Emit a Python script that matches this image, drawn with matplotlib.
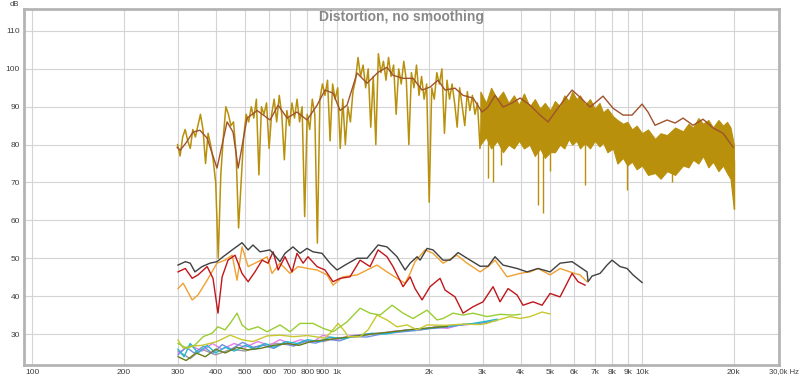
import numpy as np
import matplotlib
matplotlib.use("Agg")
import matplotlib.pyplot as plt

# ---- data (Hz, dB) ----
# raw fundamental, 300 Hz .. 3 kHz (log spaced measurement bins)
raw_lo_db = [80, 77, 82, 84, 81, 79, 84, 82, 85, 88,
             84, 75, 83, 80, 76, 70, 50, 72, 82, 90,
             88, 85, 86, 78, 58, 70, 82, 88, 86, 90,
             87, 92, 72, 90, 88, 91, 79, 88, 92, 86,
             93, 88, 76, 89, 85, 91, 87, 92, 86, 90,
             61, 88, 84, 92, 88, 54, 92, 96, 93, 97,
             81, 96, 92, 95, 79, 92, 80, 90, 86, 94,
             97, 103, 98, 101, 95, 100, 84.6, 98, 80, 104,
             99, 102, 97, 103, 98, 101, 88, 100, 96, 102,
             97, 80, 99, 95, 101, 93, 98, 92, 96, 64.8,
             95, 92, 99, 96, 100, 83, 97, 92, 96, 91,
             84.6, 95, 90, 85, 94, 89, 93, 88, 91, 79,
             90]

# raw fundamental above ~3 kHz: dense band (upper / lower envelope)
band_freq = [2950, 3080, 3200, 3350, 3500, 3650, 3800, 3950, 4100, 4280,
             4450, 4630, 4800, 5000, 5180, 5380, 5560, 5750, 5900, 6100,
             6260, 6500, 6750, 7000, 7250, 7450, 7700, 8030, 8300, 8660,
             8950, 9270, 9600, 10000, 10460, 11030, 11500, 12080, 12830, 13630,
             14200, 14700, 15300, 15850, 16500, 17090, 17800, 18430, 19000, 19500,
             20000]
band_hi = [94, 91, 95, 92, 94, 91, 93, 90.5, 93.5, 90,
           92, 89.5, 91, 89, 91.5, 90, 93, 91.5, 94, 92,
           93, 90.5, 92, 89.5, 91, 88.5, 89.5, 87.5, 86.5, 85.5,
           86, 84, 85, 83, 84, 81.5, 83, 82.5, 84.5, 83.5,
           85.5, 84.5, 87, 85.5, 86.5, 84.5, 86.5, 85, 86, 84.5,
           80]
band_lo = [80, 82, 79, 81, 78, 80, 79, 81, 79, 80,
           77, 79, 76.5, 78, 78, 80, 79, 81.5, 80, 81,
           79, 80.5, 79, 81, 79.5, 80.5, 78, 79, 75, 76.5,
           74.5, 75.5, 73.5, 74.5, 72, 72.5, 71, 73, 72, 74.5,
           74, 76, 75, 77, 74, 75.5, 73, 74.5, 72.5, 71,
           63]

# deep notches inside the band
spike_freq = [3127, 3247, 3450, 4560, 4736, 4993, 6503, 8930, 10620, 12540, 19950]
spike_db = [71.2, 70.1, 74.6, 64, 61.9, 73, 69.3, 68, 74, 70, 63]
spike_top = [86, 86, 86, 84, 84, 84, 84, 80, 78, 78, 76]

# smoothed fundamental
fund_freq = [299, 306, 320, 337, 355, 375, 404, 436, 456, 474,
             507, 547, 603, 641, 686, 739, 797, 860, 913, 970,
             1023, 1078, 1163, 1254, 1363, 1458, 1526, 1646, 1775, 1900,
             2018, 2143, 2260, 2437, 2589, 2792, 2988, 3127, 3296, 3502,
             3749, 3981, 4294, 4631, 4918, 5384, 5896, 6262, 6753, 7448,
             8034, 8662, 9273, 10000, 10460, 11030, 12080, 12830, 13630, 14700,
             15850, 17090, 18430, 19880]
fund_db = [79.3, 78.5, 80.5, 83.3, 83.8, 81.7, 73.8, 86, 83.3, 73.8,
           87, 89, 86.5, 90.4, 87, 88.6, 86.5, 90.4, 94.4, 93.6,
           89, 90.4, 98.9, 96.2, 99.1, 100.4, 98.3, 97.5, 97.5, 94.4,
           95.2, 97, 94.4, 94.9, 93, 92.3, 88.6, 89.9, 93, 89.9,
           91, 92.3, 90.4, 87.8, 86, 90.4, 94.4, 92.5, 89.9, 92.8,
           89.6, 87.8, 87.8, 90.7, 88.6, 85.1, 86.5, 85.7, 87, 85.1,
           86.7, 84.4, 83, 79.3]

# total distortion
thd_freq = [301, 318, 330, 342, 361, 383, 404, 423, 453, 488,
            511, 530, 559, 603, 650, 675, 717, 756, 797, 834,
            893, 948, 1000, 1062, 1163, 1254, 1363, 1458, 1573, 1671,
            1736, 1830, 1872, 1973, 2064, 2226, 2347, 2493, 2669, 2944,
            3127, 3296, 3502, 3892, 4198, 4560, 4993, 5384, 5896, 6358,
            6603, 6653, 6857, 7283, 7677, 7973, 8473, 8930, 9343, 10000]
thd_db = [48.2, 49.1, 48.7, 46.4, 47.8, 48.7, 49.1, 50.4, 52.2, 54.1,
          52.2, 53.5, 51.7, 52.2, 49.1, 51.3, 53, 51.3, 52.6, 51.7,
          51.3, 48.7, 46.9, 48.2, 50, 50, 53.5, 53, 50.4, 46.9,
          48.7, 50.4, 49.5, 52.6, 52.2, 49.5, 49.5, 51.5, 50, 47.9,
          47.9, 50.4, 48.2, 47.3, 46.4, 47.3, 46.4, 48.7, 49.1, 47.3,
          46.4, 43.8, 45.3, 46, 48.2, 49.5, 47.8, 47.3, 45.6, 43.6]

# 2nd harmonic
h2_freq = [301, 313, 335, 350, 375, 404, 429, 453, 470, 488,
           511, 551, 590, 612, 650, 701, 745, 803, 860, 927,
           970, 1046, 1163, 1254, 1352, 1458, 1573, 1671, 1736, 1802,
           1944, 2064, 2226, 2474, 2669, 2944, 3127, 3296, 3609, 3981,
           4294, 4560, 4993, 5384, 5896, 6262, 6603]
h2_db = [42, 43.4, 39, 40.3, 44.2, 48.7, 49.5, 50.8, 44.2, 53,
         47.8, 49.1, 50.4, 46, 48.7, 46, 47.8, 47.3, 46.9, 45.6,
         42.9, 45.1, 45.6, 46.9, 48.2, 46.4, 44.7, 43.4, 46, 49.1,
         52.2, 51.3, 48.7, 50.8, 48.7, 46.4, 47.8, 49.5, 45.1, 46,
         46.4, 47.3, 45.6, 47.3, 46.2, 45.6, 43.8]

# 3rd harmonic
h3_freq = [301, 318, 335, 350, 375, 392, 407, 420, 439, 463,
           488, 511, 538, 568, 594, 617, 641, 675, 712, 739,
           774, 803, 860, 913, 970, 1023, 1103, 1190, 1283, 1363,
           1458, 1526, 1646, 1736, 1802, 1900, 2018, 2176, 2260, 2437,
           2589, 2792, 3011, 3247, 3423, 3637, 3892, 4072, 4392, 4701,
           4993, 5384, 5896, 6170, 6503]
h3_db = [46.4, 47.3, 44.7, 45.6, 47.8, 44.7, 35.5, 45.1, 49.5, 50.8,
         46, 43.8, 46.4, 49.5, 48.7, 51.7, 46.9, 50.4, 46.4, 51.3,
         48.7, 50.4, 47.8, 46.9, 43.8, 44.7, 45.1, 49.5, 47.8, 52.2,
         50.4, 47.8, 42.5, 45.1, 42, 39, 42.5, 44.7, 41.6, 39.8,
         35.5, 37.2, 38.5, 42.5, 38.5, 42, 40.3, 37.6, 38.5, 37.6,
         40.7, 39.8, 46, 43.8, 42.9]

# 4th harmonic
h4_freq = [301, 322, 342, 364, 389, 407, 429, 446, 470, 488,
           511, 551, 590, 650, 701, 756, 834, 900, 970, 1078,
           1190, 1283, 1384, 1515, 1646, 1775, 1973, 2128, 2226, 2401,
           2589, 2792, 3103, 3423, 3776, 3981]
h4_db = [27.5, 26.2, 27.1, 29.3, 30.2, 31.9, 31.1, 32.8, 35.5, 32.4,
         31.1, 31.9, 30.6, 32.4, 30.6, 32.8, 32.8, 31.5, 30.6, 33.2,
         36.8, 35.5, 35, 37.6, 35.5, 34.1, 36.3, 33.7, 34.1, 35.5,
         35, 35.5, 34.6, 35.2, 35, 35.2]

# 5th harmonic
h5_freq = [301, 313, 335, 361, 404, 446, 488, 530, 590, 650,
           720, 800, 913, 948, 1008, 1062, 1086, 1190, 1264, 1352,
           1458, 1573, 1697, 1830, 1973, 2260, 2589, 2944, 3103, 3296,
           3692, 3981, 4294, 4701, 4993]
h5_db = [28.4, 26.3, 26.8, 27, 28, 29.7, 28.5, 28, 29.5, 29.7,
         29.3, 29.6, 28.9, 30.2, 32.8, 30.6, 29.3, 29.3, 31.1, 35,
         33.7, 31.9, 32.4, 31.1, 32.4, 32.3, 32.6, 32.5, 32.8, 33.5,
         34.6, 34.1, 34.6, 35.8, 35.3]

# higher harmonics (low cluster)
h6_freq = [301, 330, 361, 390, 420, 460, 500, 550, 600, 650,
           700, 760, 830, 900, 1000, 1100, 1250, 1400, 1550, 1700,
           1900, 2100, 2300, 2500, 2700]
h6_db = [25, 27, 25.5, 27.5, 26, 27.5, 26.5, 28, 27, 28.5,
         27.5, 28.5, 27.8, 29.7, 28.5, 29.5, 30, 30.2, 30.8, 31,
         31.2, 31.8, 31.5, 32.3, 32.5]

h7_freq = [301, 315, 330, 350, 375, 400, 430, 460, 500, 540,
           580, 620, 680, 740, 800, 870, 950, 1050, 1150, 1300,
           1450, 1600, 1800, 2000, 2250, 2500, 2800, 3100, 3350]
h7_db = [26, 24, 27.5, 25, 27, 25, 26.5, 25.5, 27, 26,
         27.5, 26.5, 28, 27.5, 28.5, 28, 29.2, 28.7, 29.5, 30.2,
         30, 30.8, 31.2, 31.5, 32, 32.4, 32.8, 33.4, 33.9]

h8_freq = [301, 320, 340, 365, 390, 420, 450, 490, 530, 575,
           620, 670, 720, 780, 850, 930, 1020, 1120, 1250, 1400,
           1600, 1800, 2000, 2300, 2600, 2900, 3200, 3350]
h8_db = [24.5, 26.5, 25, 26.8, 24.8, 27.2, 26, 27.8, 26.5, 27,
         26.2, 27.6, 26.8, 28, 27.6, 28.6, 28.2, 29.4, 29.2, 30,
         30.5, 30.9, 31.4, 31.8, 32.5, 32.7, 33.3, 33.6]

h9_freq = [301, 320, 345, 370, 400, 430, 470, 510, 560, 620,
           690, 750, 820, 900, 1000, 1100, 1250, 1400, 1600, 1800,
           2000, 2300]
h9_db = [24, 23, 25, 24, 26, 25, 26.5, 25.8, 26.2, 27,
         27.5, 27, 28, 28.4, 28.8, 29.3, 29.8, 30.3, 30.8, 31.3,
         31.6, 32]

h10_freq = [301, 330, 360, 400, 450, 500, 560, 640, 720, 800,
            900, 1000, 1150, 1300, 1500, 1700, 1900, 2100, 2300, 2500]
h10_db = [25.5, 23.5, 26, 24.5, 26, 25.5, 27, 27.5, 27, 28.2,
          28, 29, 29.2, 30, 30.4, 31.1, 31.2, 31.9, 32.1, 32.5]

xticks = [100, 200, 300, 400, 500, 600, 700, 800, 900, 1000,
          2000, 3000, 4000, 5000, 6000, 7000, 8000, 9000, 10000, 20000]
xticklabels = ['100', '200', '300', '400', '500', '600', '700', '800', '900', '1k',
               '2k', '3k', '4k', '5k', '6k', '7k', '8k', '9k', '10k', '20k']
yticks = [30, 40, 50, 60, 70, 80, 90, 100, 110]

# ---- plotting ----
plt.rcParams['font.family'] = ['Liberation Sans', 'DejaVu Sans']

gold = '#b8900c'
fig = plt.figure(figsize=(8, 3.8), dpi=100)
ax = fig.add_axes([24 / 800, 15 / 380, 755 / 800, 356 / 380])

ax.set_xscale('log')
ax.set_xlim(94.1, 28120)
ax.set_ylim(21.82, 115.8)

raw_lo_freq = np.geomspace(300, 3000, len(raw_lo_db))
ax.plot(raw_lo_freq, raw_lo_db, color=gold, lw=1.1, zorder=2)
ax.fill_between(band_freq, band_lo, band_hi, color=gold, lw=0.8, zorder=2)
ax.vlines(spike_freq, spike_db, spike_top, color=gold, lw=1.0, zorder=2)
ax.plot(fund_freq, fund_db, color='#a0522d', lw=1.0, zorder=3)

ax.plot(h10_freq, h10_db, color='#9a9a9a', lw=1.0, zorder=3)
ax.plot(h6_freq, h6_db, color='#e67ee6', lw=1.0, zorder=3)
ax.plot(h8_freq, h8_db, color='#7090e0', lw=1.0, zorder=3)
ax.plot(h7_freq, h7_db, color='#20b8d0', lw=1.0, zorder=3)
ax.plot(h9_freq, h9_db, color='#6b7d1a', lw=1.0, zorder=3)
ax.plot(h5_freq, h5_db, color='#c8c830', lw=1.0, zorder=3)
ax.plot(h4_freq, h4_db, color='#9acd32', lw=1.0, zorder=3)
ax.plot(h2_freq, h2_db, color='#f0a030', lw=1.0, zorder=3)
ax.plot(h3_freq, h3_db, color='#c0161a', lw=1.0, zorder=3)
ax.plot(thd_freq, thd_db, color='#404040', lw=1.0, zorder=4)

ax.set_xticks(xticks)
ax.set_xticklabels(xticklabels)
ax.xaxis.set_minor_locator(matplotlib.ticker.NullLocator())
ax.set_yticks(yticks)
ax.tick_params(length=0, labelsize=6, labelcolor='#404040', pad=3)
ax.grid(True, color='#d4d4d4', lw=0.8)
ax.set_axisbelow(True)
for sp in ax.spines.values():
    sp.set_color('#b4b4b4')
    sp.set_linewidth(2)

ax.text(0.5, 1 - 8 / 356, 'Distortion, no smoothing', transform=ax.transAxes,
        ha='center', va='center', fontsize=10, fontweight='bold', color='#888888')
fig.text(14 / 800, 1 - 4 / 380, 'dB', ha='center', va='center', fontsize=5.5, color='#404040')
fig.text(799 / 800, 1 - 372 / 380, '30,0k Hz', ha='right', va='center', fontsize=5.5, color='#404040')

fig.savefig('out.png', dpi=100)
